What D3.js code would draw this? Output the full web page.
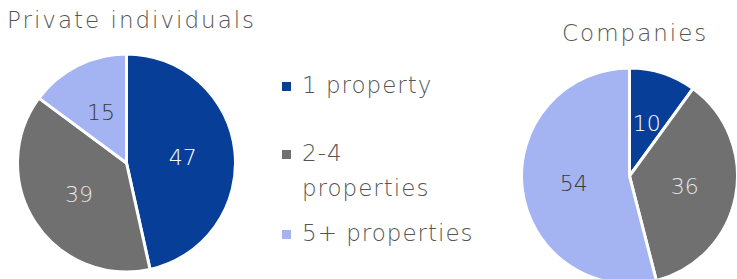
<!DOCTYPE html>
<html><head><meta charset="utf-8">
<script src="https://cdn.jsdelivr.net/npm/d3@7"></script>
<style>body{margin:0;background:#fff}svg{display:block}</style>
</head><body>
<svg id="c" width="737" height="279"></svg>
<script>
const categories = ["1 property", "2-4 properties", "5+ properties"];
const privateValues = [47, 39, 15];
const companyValues = [10, 36, 54];
const colors = ["#073E98", "#707070", "#A4B4F2"];
const labelColors = ["#ffffff", "#e6e6e6", "#3a3a3a"];
const font = "'DejaVu Sans', sans-serif";

const svg = d3.select("#c");
const pie = d3.pie().sort(null).value(d => d);
const color = d3.scaleOrdinal().domain(categories).range(colors);
const lblColor = d3.scaleOrdinal().domain(categories).range(labelColors);

function drawPie(values, cx, cy, r, title, tx, ty) {
  const g = svg.append("g").attr("transform", `translate(${cx},${cy})`);
  const arc = d3.arc().innerRadius(0).outerRadius(r);
  const labelArc = d3.arc().innerRadius(r * 0.52).outerRadius(r * 0.52);
  const data = pie(values).map((d, i) => Object.assign(d, {cat: categories[i]}));
  g.selectAll("path").data(data).join("path")
    .attr("d", arc).attr("fill", d => color(d.cat))
    .attr("stroke", "#fff").attr("stroke-width", 3).attr("stroke-linejoin", "round");
  g.selectAll("text").data(data).join("text")
    .attr("transform", d => `translate(${labelArc.centroid(d)})`)
    .attr("text-anchor", "middle").attr("dy", "0.36em")
    .attr("font-family", font).attr("font-size", 22).attr("font-weight", 200)
    .attr("fill", d => lblColor(d.cat)).text(d => d.data);
  svg.append("text").attr("x", tx).attr("y", ty)
    .attr("font-family", font).attr("font-size", 23).attr("font-weight", 200)
    .attr("letter-spacing", 2).attr("fill", "#555555").text(title);
}

drawPie(privateValues, 126.5, 163, 109, "Private individuals", 7, 28);
drawPie(companyValues, 629.5, 176, 108, "Companies", 562, 41);

// legend
const legendRows = [
  {cat: categories[0], lines: ["1 property"], y: 93},
  {cat: categories[1], lines: ["2-4", "properties"], y: 161},
  {cat: categories[2], lines: ["5+ properties"], y: 241}
];
const lg = svg.append("g");
legendRows.forEach(row => {
  lg.append("rect").attr("x", 282).attr("y", row.y - 11).attr("width", 9).attr("height", 9)
    .attr("fill", color(row.cat));
  row.lines.forEach((t, i) => {
    lg.append("text").attr("x", 302).attr("y", row.y + i * 35)
      .attr("font-family", font).attr("font-size", 23).attr("font-weight", 200)
      .attr("letter-spacing", 1).attr("fill", "#555555").text(t);
  });
});
</script>
</body></html>
